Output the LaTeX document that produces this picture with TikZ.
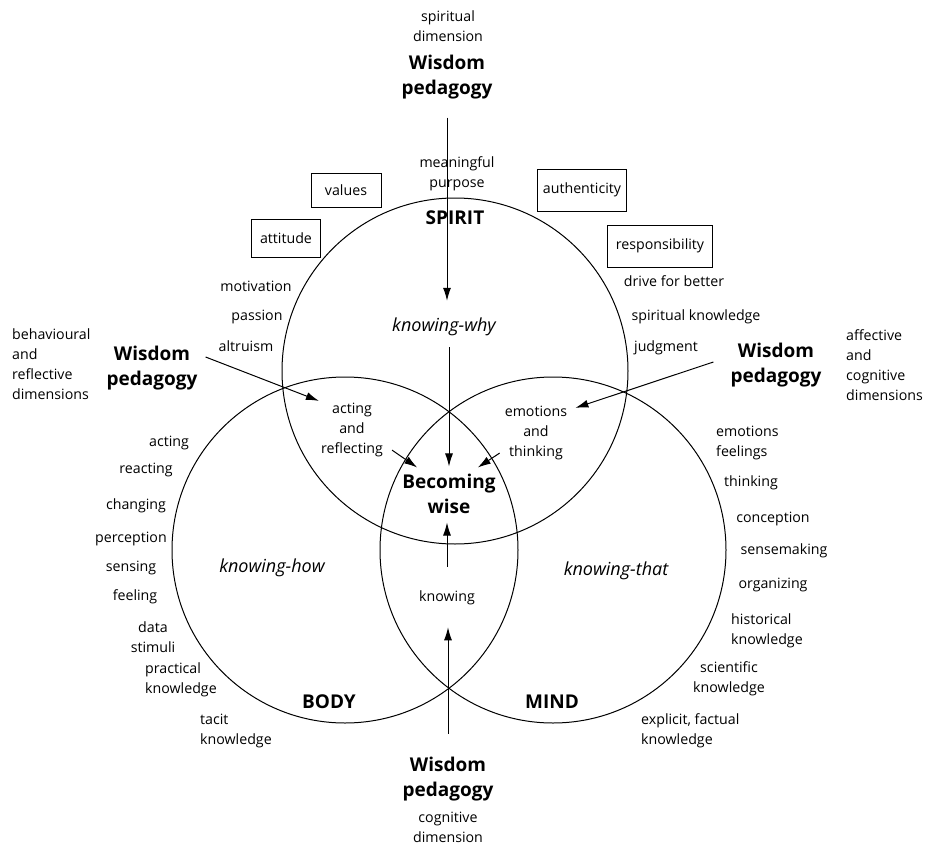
\documentclass[tikz,border=0pt]{standalone}
\usepackage{fontspec}
\setmainfont{Open Sans}
\usetikzlibrary{arrows.meta, positioning, calc}

\tikzset{
  txt/.style={font=\fontsize{14.2}{20}\selectfont, align=center, inner sep=2pt},
  bigtxt/.style={font=\fontsize{19}{25}\selectfont\bfseries, align=center, inner sep=2pt},
  zone/.style={font=\fontsize{18}{20}\selectfont\itshape, inner sep=2pt},
  tag/.style={txt, draw, line width=1pt, minimum height=36pt},
  ring/.style={line width=1pt},
  arr/.style={-{Latex[length=13pt,width=8pt]}, line width=1pt}
}

\begin{document}
\begin{tikzpicture}[x=1pt,y=-1pt]
\useasboundingbox (0,0) rectangle (927,846);

% the three circles
\draw[ring] (455,371) circle (173pt);
\draw[ring] (345,550) circle (173pt);
\draw[ring] (553,550) circle (173pt);

% top
\node[txt] (spiritdim) at (448,26.5) {spiritual\\dimension};
\node[bigtxt] (topwp) at (447,77.5) {Wisdom\\pedagogy};
\node[txt] (meaning) at (457,174) {meaningful\\purpose};
\node[bigtxt] (spirit) at (455,218) {SPIRIT};
\node[tag, minimum width=70pt, minimum height=34pt] (values) at (346,190) {values};
\node[tag, minimum width=89pt, minimum height=42pt] (authenticity) at (582,190) {authenticity};
\node[tag, minimum width=69pt, minimum height=38pt] (attitude) at (286,238) {attitude};
\node[tag, minimum width=105pt, minimum height=42pt] (responsibility) at (660,246) {responsibility};
\node[txt] (drive) at (674,281) {drive for better};
\node[txt] (spiritknow) at (696,317) {spiritual knowledge};
\node[txt] (judgment) at (666,348) {judgment};
\node[txt] (motivation) at (256,286) {motivation};
\node[txt] (passion) at (257,317) {passion};
\node[txt] (altruism) at (246,346) {altruism};
\node[zone] (kwhy) at (444,327) {knowing-why};

% left side
\node[txt, anchor=west, align=left] (behav) at (10,364) {behavioural\\and\\reflective\\dimensions};
\node[bigtxt] (lwp) at (152,368) {Wisdom\\pedagogy};
\node[txt] (acting) at (169,443) {acting};
\node[txt] (reacting) at (146,470) {reacting};
\node[txt] (changing) at (136,506) {changing};
\node[txt] (perception) at (131,539) {perception};
\node[txt] (sensing) at (131,568) {sensing};
\node[txt] (feeling) at (135,597) {feeling};
\node[txt] (data) at (153,637) {data\\stimuli};
\node[txt, anchor=west, align=left] (practical) at (143,680) {practical\\knowledge};
\node[txt, anchor=west, align=left] (tacit) at (198,731) {tacit\\knowledge};
\node[zone] (khow) at (272,568) {knowing-how};
\node[bigtxt] (body) at (329,702) {BODY};

% right side
\node[txt, anchor=west, align=left] (affect) at (844,365) {affective\\and\\cognitive\\dimensions};
\node[bigtxt] (rwp) at (776,365) {Wisdom\\pedagogy};
\node[txt, anchor=west, align=left] (emofeel) at (714,443) {emotions\\feelings};
\node[txt] (thinking) at (751,483) {thinking};
\node[txt] (conception) at (773,519) {conception};
\node[txt] (sensemaking) at (784,551) {sensemaking};
\node[txt] (organizing) at (773,585) {organizing};
\node[txt, anchor=west, align=left] (historical) at (729,631) {historical\\knowledge};
\node[txt] (scientific) at (729,679) {scientific\\knowledge};
\node[txt, anchor=west, align=left] (explicit) at (639,731) {explicit, factual\\knowledge};
\node[zone] (kthat) at (616,571) {knowing-that};
\node[bigtxt] (mind) at (552,702) {MIND};

% centre
\node[txt] (actref) at (352,430) {acting\\and\\reflecting};
\node[txt] (emothink) at (536,433) {emotions\\and\\thinking};
\node[bigtxt] (wise) at (449,493.5) {Becoming\\wise};
\node[txt] (knowing) at (447,598) {knowing};

% bottom
\node[bigtxt] (botwp) at (448,779) {Wisdom\\pedagogy};
\node[txt] (cogdim) at (448,827) {cognitive\\dimension};

% arrows
\draw[arr, shorten <=16pt, shorten >=15pt] (topwp.south) -- (topwp.south |- kwhy.north);
\draw[arr, shorten <=9pt] (wise.north |- kwhy.south) -- ([yshift=5pt]wise.north);
\draw[arr, shorten <=22pt, shorten >=7pt] (knowing.north) -- (knowing.north |- wise.south);
\draw[arr, shorten <=21pt, shorten >=20pt] (botwp.north) -- (botwp.north |- knowing.south);
\draw[arr] ([shift={(6,-11)}]lwp.east) -- (actref.north west);
\draw[arr] ([shift={(-15,-3)}]rwp.west) -- ([shift={(6,4)}]emothink.north east);
\draw[arr] ([shift={(7,-9)}]actref.south east) -- ([shift={(17,-4)}]wise.north west);
\draw[arr] ([shift={(-3,-9)}]emothink.south west) -- ([shift={(-20,-4)}]wise.north east);
\end{tikzpicture}
\end{document}
